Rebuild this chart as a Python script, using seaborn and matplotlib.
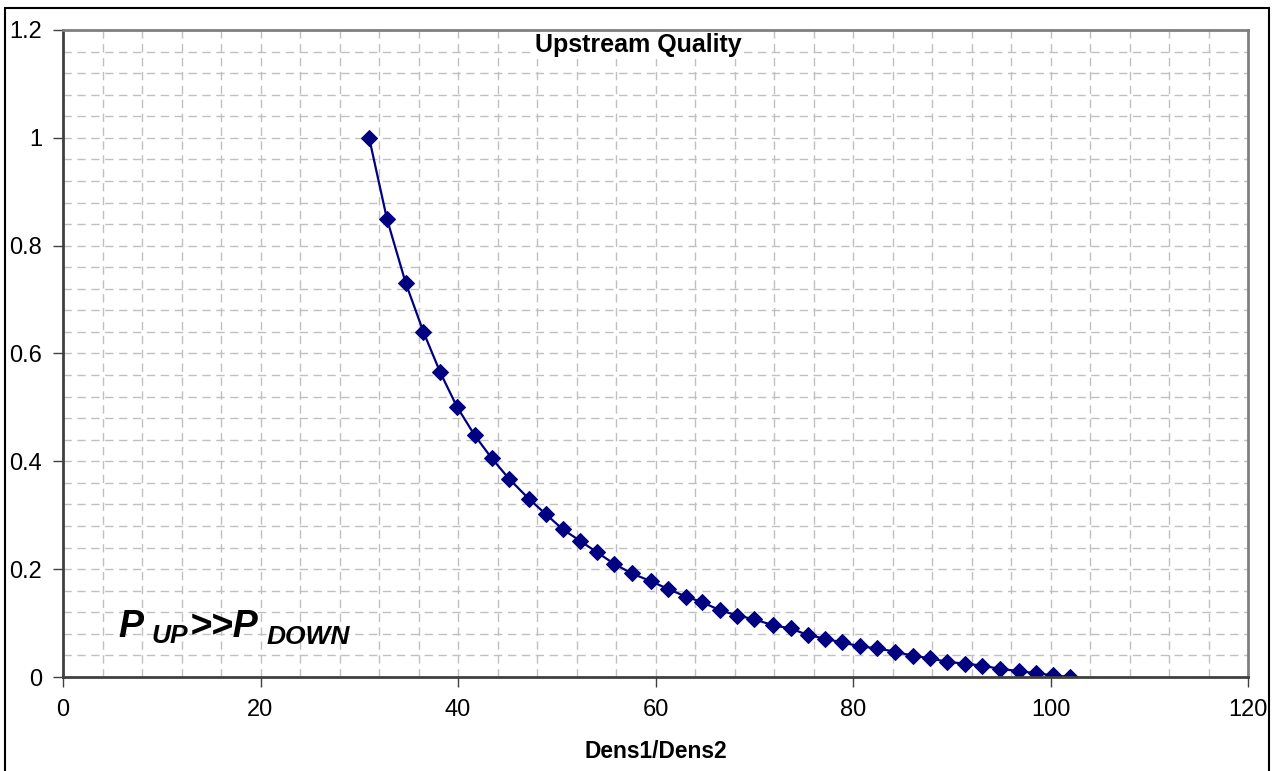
import numpy as np
import pandas as pd
import matplotlib
matplotlib.use("Agg")
import matplotlib.pyplot as plt
from matplotlib.patches import Rectangle
from matplotlib.ticker import MultipleLocator, FuncFormatter
import seaborn as sns

# values
dens_ratio = [31.0, 32.8, 34.7, 36.5, 38.2, 39.9, 41.7, 43.4, 45.2, 47.2,
              48.9, 50.6, 52.4, 54.1, 55.8, 57.6, 59.5, 61.3, 63.1, 64.7,
              66.5, 68.3, 70.0, 71.9, 73.7, 75.4, 77.2, 78.9, 80.7, 82.4,
              84.3, 86.1, 87.8, 89.5, 91.3, 93.1, 94.9, 96.8, 98.5, 100.3,
              102.0]
quality = [1.000, 0.850, 0.731, 0.640, 0.565, 0.501, 0.448, 0.406, 0.367, 0.330,
           0.302, 0.274, 0.252, 0.231, 0.210, 0.192, 0.178, 0.163, 0.149, 0.139,
           0.124, 0.114, 0.107, 0.096, 0.090, 0.078, 0.071, 0.064, 0.057, 0.053,
           0.047, 0.039, 0.035, 0.028, 0.025, 0.021, 0.015, 0.011, 0.007, 0.003,
           0.000]

df = pd.DataFrame({"Dens1/Dens2": dens_ratio, "Quality": quality})

sns.set_style("white")
plt.rcParams['font.family'] = ['Liberation Sans', 'DejaVu Sans']
plt.rcParams['text.color'] = 'black'
plt.rcParams['xtick.color'] = 'black'
plt.rcParams['ytick.color'] = 'black'

W, H = 1279, 771
fig = plt.figure(figsize=(W / 100, H / 100), dpi=100)
ax = fig.add_axes([63 / W, 1 - 677 / H, (1248 - 63) / W, (677 - 30) / H])

sns.lineplot(data=df, x="Dens1/Dens2", y="Quality", ax=ax, color="#000080",
             linewidth=1.6, marker="D", markersize=8, markeredgecolor="#000080",
             sort=False)

ax.set_xlim(0, 120)
ax.set_ylim(0, 1.2)
ax.xaxis.set_major_locator(MultipleLocator(20))
ax.xaxis.set_minor_locator(MultipleLocator(4))
ax.yaxis.set_major_locator(MultipleLocator(0.2))
ax.yaxis.set_minor_locator(MultipleLocator(0.04))
ax.yaxis.set_major_formatter(FuncFormatter(lambda v, p: f"{v:.1f}".rstrip("0").rstrip(".")))

ax.grid(True, which="both", color="#c0c0c0", linestyle=(0, (6, 4)), linewidth=1.0)
ax.set_axisbelow(True)

ax.tick_params(axis="both", which="major", direction="out", length=7, width=1,
               color="#404040", labelsize=17, labelcolor="black", left=True, bottom=True)
ax.tick_params(axis="x", which="major", pad=9)
ax.tick_params(axis="y", which="major", pad=8)
ax.tick_params(which="minor", length=0)

for side in ["left", "bottom"]:
    ax.spines[side].set_color("#404040")
    ax.spines[side].set_linewidth(2)
for side in ["top", "right"]:
    ax.spines[side].set_color("#808080")
    ax.spines[side].set_linewidth(2)

ax.set_xlabel("")
ax.set_ylabel("")

fig.text(656 / W, 1 - 752 / H, "Dens1/Dens2", ha="center", va="center",
         fontsize=16.4, fontweight="bold")

fig.text(638 / W, 1 - 45 / H, "Upstream Quality", ha="center", va="center",
         fontsize=18, fontweight="bold",
         bbox=dict(facecolor="white", edgecolor="none", pad=1))

# P_UP >> P_DOWN label
lab = dict(fontweight="bold", fontstyle="italic", va="baseline", ha="left")
fig.text(118 / W, 1 - 637 / H, "P", fontsize=27, **lab)
fig.text(151 / W, 1 - 643 / H, "UP", fontsize=19, **lab)
fig.text(190 / W, 1 - 637 / H, ">>P", fontsize=27, **lab)
fig.text(267 / W, 1 - 644 / H, "DOWN", fontsize=19, **lab)

# outer chart border
fig.patches.append(Rectangle((5 / W, -0.05), (1269 - 5) / W, 1.05 - 8 / H,
                             transform=fig.transFigure, fill=False,
                             edgecolor="black", linewidth=1.5))

fig.savefig("out.png", dpi=100)
